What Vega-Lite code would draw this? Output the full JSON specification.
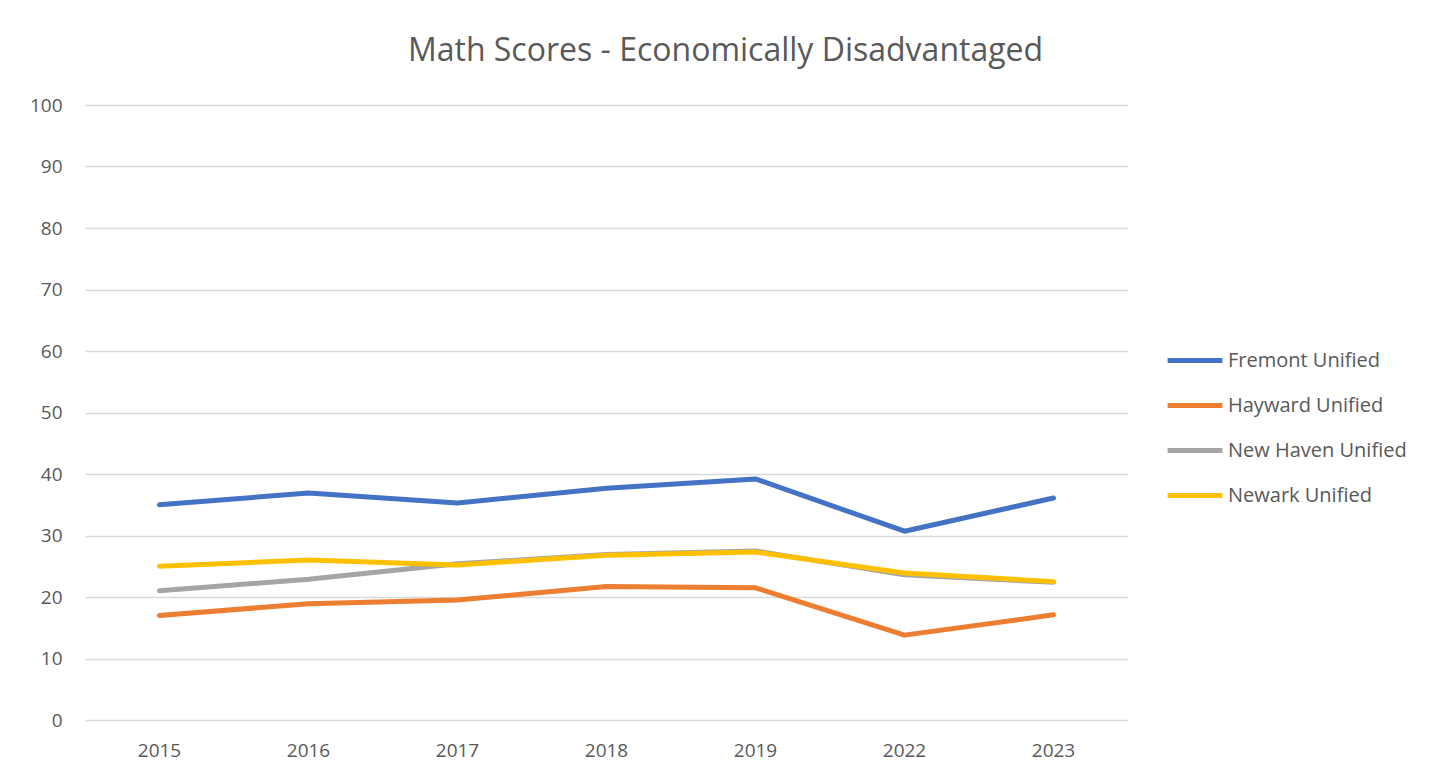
{
  "$schema": "https://vega.github.io/schema/vega-lite/v6.json",
  "width": 1043,
  "height": 615,
  "autosize": {"type": "none"},
  "padding": {"left": 85, "top": 105, "right": 326, "bottom": 59},
  "background": "white",
  "title": {
    "text": "Math Scores - Economically Disadvantaged",
    "font": "Open Sans",
    "fontSize": 32,
    "fontWeight": "normal",
    "color": "#595959",
    "anchor": "middle",
    "dx": 119,
    "offset": 28
  },
  "data": {
    "values": [
      {"year": "2015", "district": "Fremont Unified", "score": 35.0},
      {"year": "2016", "district": "Fremont Unified", "score": 36.9},
      {"year": "2017", "district": "Fremont Unified", "score": 35.3},
      {"year": "2018", "district": "Fremont Unified", "score": 37.7},
      {"year": "2019", "district": "Fremont Unified", "score": 39.2},
      {"year": "2022", "district": "Fremont Unified", "score": 30.7},
      {"year": "2023", "district": "Fremont Unified", "score": 36.1},
      {"year": "2015", "district": "Hayward Unified", "score": 17.0},
      {"year": "2016", "district": "Hayward Unified", "score": 18.9},
      {"year": "2017", "district": "Hayward Unified", "score": 19.5},
      {"year": "2018", "district": "Hayward Unified", "score": 21.7},
      {"year": "2019", "district": "Hayward Unified", "score": 21.5},
      {"year": "2022", "district": "Hayward Unified", "score": 13.8},
      {"year": "2023", "district": "Hayward Unified", "score": 17.1},
      {"year": "2015", "district": "New Haven Unified", "score": 21.0},
      {"year": "2016", "district": "New Haven Unified", "score": 22.9},
      {"year": "2017", "district": "New Haven Unified", "score": 25.4},
      {"year": "2018", "district": "New Haven Unified", "score": 26.9},
      {"year": "2019", "district": "New Haven Unified", "score": 27.5},
      {"year": "2022", "district": "New Haven Unified", "score": 23.6},
      {"year": "2023", "district": "New Haven Unified", "score": 22.4},
      {"year": "2015", "district": "Newark Unified", "score": 25.0},
      {"year": "2016", "district": "Newark Unified", "score": 26.0},
      {"year": "2017", "district": "Newark Unified", "score": 25.2},
      {"year": "2018", "district": "Newark Unified", "score": 26.8},
      {"year": "2019", "district": "Newark Unified", "score": 27.3},
      {"year": "2022", "district": "Newark Unified", "score": 23.9},
      {"year": "2023", "district": "Newark Unified", "score": 22.5}
    ]
  },
  "mark": {"type": "line", "strokeWidth": 5, "strokeCap": "round", "strokeJoin": "round"},
  "encoding": {
    "x": {
      "field": "year",
      "type": "ordinal",
      "scale": {"type": "band", "paddingInner": 0, "paddingOuter": 0},
      "axis": {
        "title": null,
        "labelAngle": 0,
        "labelFont": "Open Sans",
        "labelFontSize": 19,
        "labelColor": "#595959",
        "labelPadding": 21,
        "ticks": false,
        "domain": false
      }
    },
    "y": {
      "field": "score",
      "type": "quantitative",
      "scale": {"domain": [0, 100], "nice": false},
      "axis": {
        "title": null,
        "values": [0, 10, 20, 30, 40, 50, 60, 70, 80, 90, 100],
        "labelFont": "Open Sans",
        "labelFontSize": 19,
        "labelColor": "#595959",
        "labelPadding": 23,
        "ticks": false,
        "domain": false,
        "grid": true,
        "gridColor": "#d9d9d9",
        "gridWidth": 1.5
      }
    },
    "color": {
      "field": "district",
      "type": "nominal",
      "scale": {
        "domain": ["Fremont Unified", "Hayward Unified", "New Haven Unified", "Newark Unified"],
        "range": ["#4472C4", "#ED7D31", "#A5A5A5", "#FFC000"]
      },
      "legend": {
        "title": null,
        "orient": "none",
        "legendX": 1080,
        "legendY": 233,
        "symbolType": "stroke",
        "symbolSize": 3000,
        "symbolStrokeWidth": 5,
        "clipHeight": 45,
        "rowPadding": 0,
        "labelFont": "Open Sans",
        "labelFontSize": 20,
        "labelLimit": 300,
        "labelColor": "#595959",
        "labelOffset": 3
      }
    }
  },
  "config": {"view": {"stroke": null}}
}
